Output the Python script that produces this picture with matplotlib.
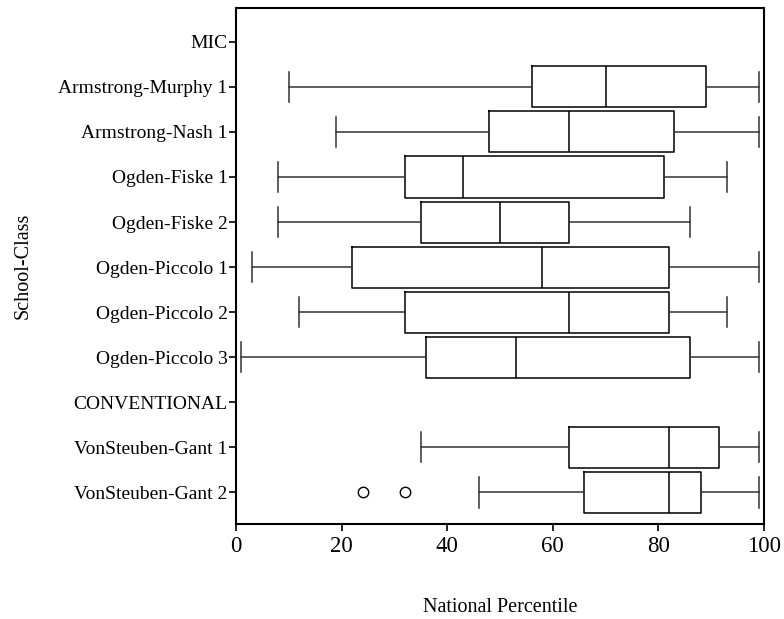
import numpy as np
import matplotlib
matplotlib.use("Agg")
import matplotlib.pyplot as plt

plt.rcParams['font.family'] = ['Liberation Serif', 'DejaVu Serif']

# classes listed top to bottom; group headers have no data
classes = ["MIC", "Armstrong-Murphy 1", "Armstrong-Nash 1", "Ogden-Fiske 1",
           "Ogden-Fiske 2", "Ogden-Piccolo 1", "Ogden-Piccolo 2", "Ogden-Piccolo 3",
           "CONVENTIONAL", "VonSteuben-Gant 1", "VonSteuben-Gant 2"]

# five-number summaries (percentiles) for the classes that have scores
box_classes = ["Armstrong-Murphy 1", "Armstrong-Nash 1", "Ogden-Fiske 1",
               "Ogden-Fiske 2", "Ogden-Piccolo 1", "Ogden-Piccolo 2",
               "Ogden-Piccolo 3", "VonSteuben-Gant 1", "VonSteuben-Gant 2"]
whislo = [10, 19, 8, 8, 3, 12, 1, 35, 46]
q1 = [56, 48, 32, 35, 22, 32, 36, 63, 66]
med = [70, 63, 43, 50, 58, 63, 53, 82, 82]
q3 = [89, 83, 81, 63, 82, 82, 86, 91.5, 88]
whishi = [99, 99, 93, 86, 99, 93, 99, 99, 99]
fliers = [[], [], [], [], [], [], [], [], [24, 32]]

stats = []
for i, name in enumerate(box_classes):
    stats.append(dict(label=name, whislo=whislo[i], q1=q1[i], med=med[i],
                      q3=q3[i], whishi=whishi[i], fliers=fliers[i]))
positions = [classes.index(n) for n in box_classes]

fig = plt.figure(figsize=(7.84, 6.19), dpi=100)
ax = fig.add_axes([236 / 784, 1 - 524 / 619, (764 - 236) / 784, (524 - 8) / 619])

line = dict(color="black", linewidth=1.1)
whisk = dict(color="#333333", linewidth=1.1)
ax.bxp(stats, positions=positions, vert=False, widths=0.91,
       boxprops=line, medianprops=line, whiskerprops=whisk, capprops=whisk,
       capwidths=0.67,
       flierprops=dict(marker="o", markersize=7.5, markerfacecolor="none",
                       markeredgecolor="black", markeredgewidth=1.0),
       showfliers=True, manage_ticks=False)

ax.set_yticks(range(len(classes)))
ax.set_yticklabels(classes, fontsize=14)
ax.set_ylim(10.7, -0.75)
ax.set_xlim(0, 100)
ax.set_xticks([0, 20, 40, 60, 80, 100])
ax.tick_params(axis="x", labelsize=16.5, length=5, width=1.2, direction="out", pad=4)
ax.tick_params(axis="y", length=5, width=1.2, direction="out", pad=1)
for s in ax.spines.values():
    s.set_linewidth(1.5)

fig.text(500 / 784, 1 - 608 / 619, "National Percentile", ha="center", va="center", fontsize=14.5)
fig.text(23 / 784, 1 - 266 / 619, "School-Class", ha="center", va="center",
         rotation=90, fontsize=14.5)

fig.savefig("out.png", dpi=100)
